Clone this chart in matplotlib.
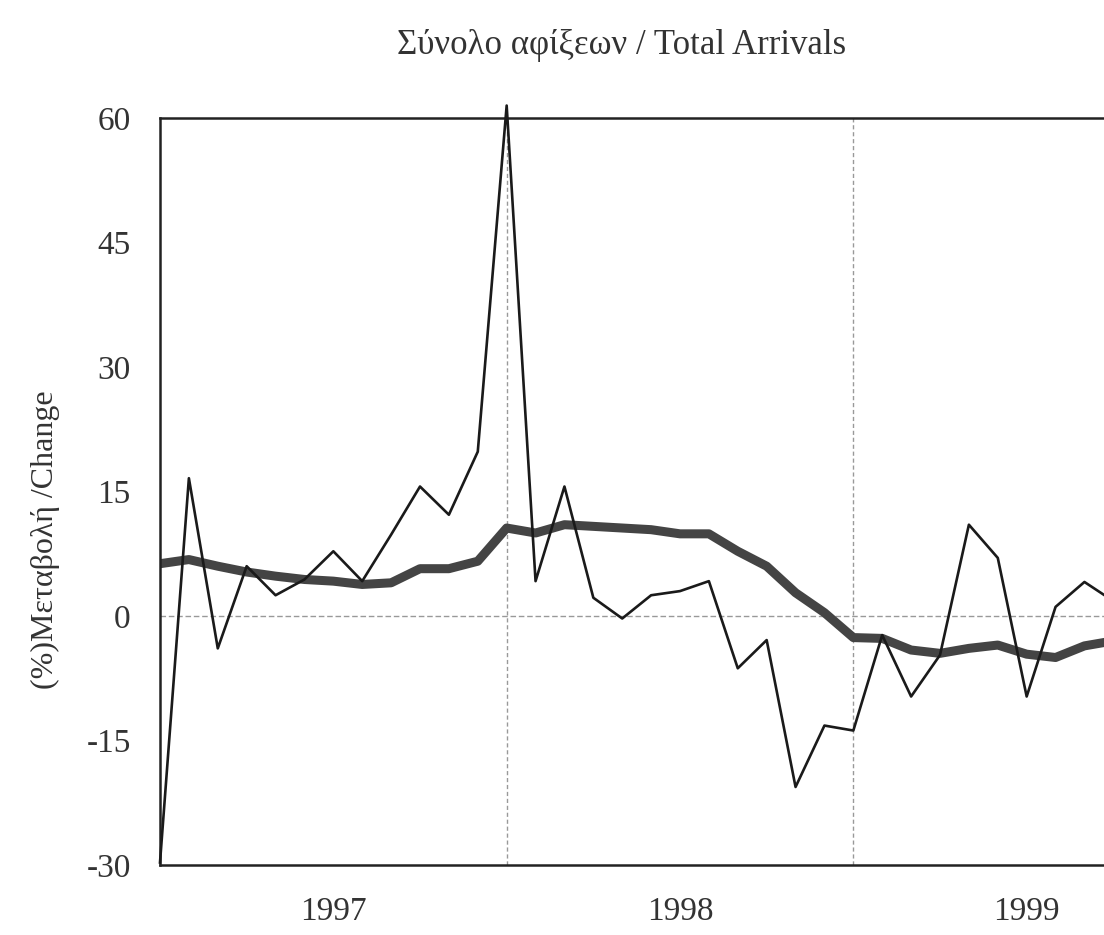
import numpy as np
import matplotlib.pyplot as plt
plt.switch_backend('agg')

# monthly % change, Jan 1997 onwards (index 0 = Jan 1997)
monthly = [-29.7, 16.6, -3.9, 6.0, 2.5, 4.4, 7.8, 4.2, 9.8, 15.6, 12.2, 19.8,
           61.5, 4.2, 15.6, 2.2, -0.3, 2.5, 3.0, 4.2, -6.3, -2.9, -20.6, -13.2,
           -13.8, -2.3, -9.7, -4.7, 11.0, 7.0, -9.7, 1.1, 4.1, 1.8]
# smoothed (thick) series
trend = [6.3, 6.8, 6.0, 5.3, 4.8, 4.4, 4.2, 3.8, 4.0, 5.7, 5.7, 6.6,
         10.6, 10.0, 11.0, 10.8, 10.6, 10.4, 9.9, 9.9, 7.8, 6.0, 2.8, 0.4,
         -2.6, -2.7, -4.1, -4.5, -3.9, -3.5, -4.6, -5.0, -3.6, -3.0]
years = ['1997', '1998', '1999']
yticks = [-30, -15, 0, 15, 30, 45, 60]

plt.rcParams['font.family'] = ['Liberation Serif', 'DejaVu Serif']

fig = plt.figure(figsize=(11.04, 9.35), dpi=100)
ax = fig.add_axes([160/1104, 70/935, 1040/1104, 747/935])

x = np.arange(len(monthly))
ax.axhline(0, color='#999999', lw=1.0, ls=(0, (4, 2)), zorder=1)
for gx in [12, 24]:
    ax.axvline(gx, color='#999999', lw=1.0, ls=(0, (3, 2)), zorder=1)

ax.plot(x, trend, color='#444444', lw=6.5, solid_capstyle='butt', zorder=2)
ax.plot(x, monthly, color='#1a1a1a', lw=1.9, zorder=3, clip_on=False)

ax.set_xlim(0, 36)
ax.set_ylim(-30, 60)
ax.set_yticks(yticks)
ax.set_yticklabels([str(v) for v in yticks], fontsize=24, color='#333333')
ax.set_xticks([6, 18, 30])
ax.set_xticklabels(years, fontsize=24, color='#333333')
ax.tick_params(axis='y', length=0, pad=21)
ax.tick_params(axis='x', length=0, pad=23)

for s in ['left', 'top', 'bottom']:
    ax.spines[s].set_linewidth(1.8)
    ax.spines[s].set_color('#222222')
ax.spines['right'].set_visible(False)

fig.text(622/1104, 1 - 45/935, 'Σύνολο αφίξεων / Total Arrivals', ha='center', va='center',
         fontsize=25, color='#333333')
fig.text(45/1104, 1 - 540/935, '(%)Μεταβολή /Change', ha='center', va='center',
         rotation=90, fontsize=23, color='#333333')

fig.savefig('out.png', dpi=100)
